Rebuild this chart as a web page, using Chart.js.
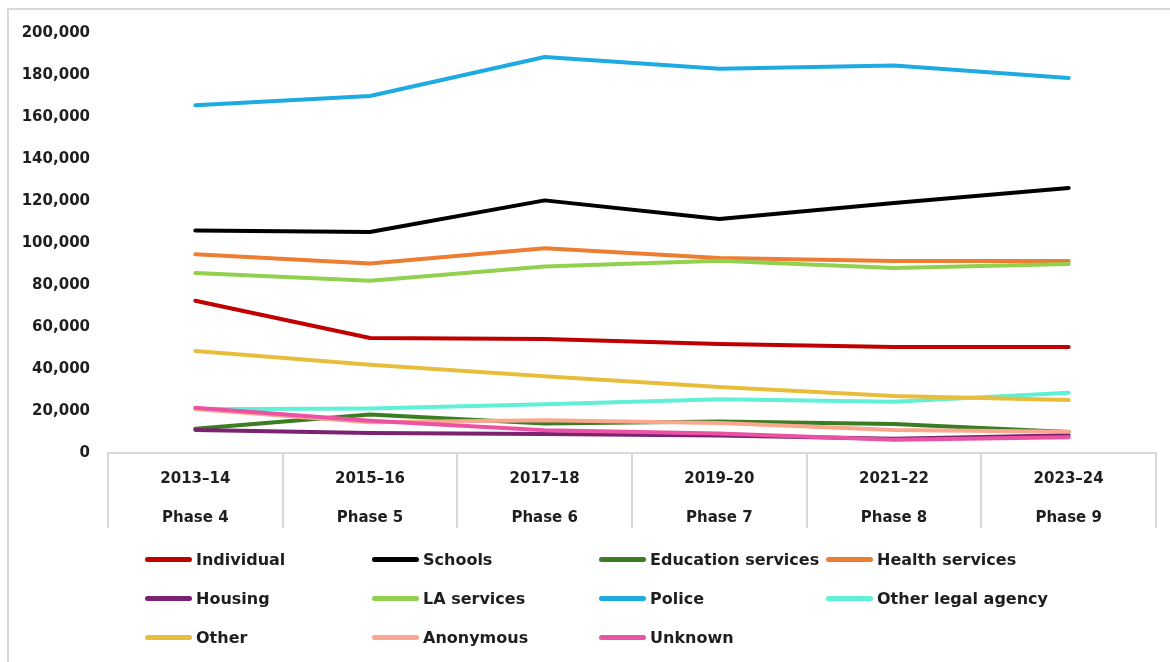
<!DOCTYPE html>
<html>
<head>
<meta charset="utf-8">
<script src="https://cdn.jsdelivr.net/npm/chart.js@4.4.0/dist/chart.umd.min.js"></script>
<style>
  html, body { margin: 0; padding: 0; background: #fff; overflow: hidden; }
  body { width: 1170px; height: 662px; position: relative; }
  .frame {
    position: absolute; left: 7px; top: 8px; width: 1161px; height: 652px;
    border-left: 2px solid #d9d9d9; border-top: 2px solid #d9d9d9;
  }
  #wrap { position: absolute; left: 0; top: 0; width: 1170px; height: 545px; }
  .legend {
    position: absolute; left: 145px; top: 540px;
    display: grid; grid-template-columns: repeat(4, 227px); grid-auto-rows: 39px;
    font-family: "DejaVu Sans", sans-serif; font-weight: bold; font-size: 16px; color: #1e1e1e;
  }
  .legend div { display: flex; align-items: center; white-space: nowrap; }
  .legend span { display: inline-block; width: 47px; height: 5px; border-radius: 3px; margin-right: 4px; }
</style>
</head>
<body>
<div class="frame"></div>
<div id="wrap"><canvas id="chart" width="1170" height="545"></canvas></div>
<div class="legend" id="legend"></div>
<script>
// periods and phases on the x axis
const periods = ["2013–14", "2015–16", "2017–18", "2019–20", "2021–22", "2023–24"]
const phases = ["Phase 4", "Phase 5", "Phase 6", "Phase 7", "Phase 8", "Phase 9"]

// series values
const individual = [72500, 54800, 54300, 51900, 50500, 50500]
const schools = [106000, 105200, 120300, 111400, 119000, 126200]
const educationServices = [11500, 18300, 14000, 15000, 13800, 10000]
const healthServices = [94600, 90200, 97500, 92800, 91400, 91400]
const housing = [11000, 9500, 9000, 8300, 6800, 8500]
const laServices = [85700, 82000, 88800, 91600, 88100, 90000]
const police = [165600, 170000, 188600, 183000, 184500, 178600]
const otherLegalAgency = [20800, 21200, 23200, 25600, 24400, 28700]
const other = [48600, 42000, 36500, 31400, 27100, 25200]
const anonymous = [21000, 14600, 15600, 14300, 11000, 10100]
const unknown = [21600, 15400, 10800, 9300, 6300, 7500]

const series = [
  ["Individual", individual, "#c00000"],
  ["Schools", schools, "#000000"],
  ["Education services", educationServices, "#3b7d23"],
  ["Health services", healthServices, "#ed7d31"],
  ["Housing", housing, "#7b2272"],
  ["LA services", laServices, "#92d050"],
  ["Police", police, "#1eabe2"],
  ["Other legal agency", otherLegalAgency, "#5ff0d6"],
  ["Other", other, "#e9bd3c"],
  ["Anonymous", anonymous, "#fba68e"],
  ["Unknown", unknown, "#ec52a4"]
]

const font = "DejaVu Sans"
const textColor = "#1e1e1e"
const gridColor = "#d9d9d9"

const datasets = series.map(([label, data, color], i) => ({
  label,
  data,
  borderColor: color,
  backgroundColor: color,
  borderWidth: 4,
  borderCapStyle: "round",
  borderJoinStyle: "round",
  pointRadius: 0,
  tension: 0,
  // later series on top, like the original
  order: series.length - i
}))

new Chart(document.getElementById("chart"), {
  type: "line",
  data: {
    labels: periods.map((p, i) => [p, phases[i]]),
    datasets
  },
  options: {
    responsive: false,
    animation: false,
    layout: { padding: { left: 8, right: 14, top: 33, bottom: 0 } },
    plugins: {
      legend: { display: false },
      tooltip: { enabled: false }
    },
    scales: {
      x: {
        offset: true,
        afterFit: s => { s.height = 92 },
        grid: {
          offset: true,
          drawOnChartArea: false,
          drawTicks: true,
          tickLength: 75,
          color: gridColor,
          lineWidth: 2
        },
        border: { display: true, color: gridColor, width: 2 },
        ticks: {
          autoSkip: false,
          maxRotation: 0,
          padding: -68,
          color: textColor,
          font: { family: font, size: 15, weight: "bold", lineHeight: 2.6 }
        }
      },
      y: {
        min: 0,
        max: 200000,
        afterFit: s => { s.width = 100 },
        grid: { display: false, drawTicks: false },
        border: { display: false },
        ticks: {
          stepSize: 20000,
          padding: 18,
          color: textColor,
          font: { family: font, size: 15, weight: "bold" },
          callback: v => String(v).replace(/\B(?=(\d{3})+(?!\d))/g, ",")
        }
      }
    }
  }
})

// legend in fixed columns
const legend = document.getElementById("legend")
series.forEach(([label, , color]) => {
  const item = document.createElement("div")
  const swatch = document.createElement("span")
  swatch.style.background = color
  item.appendChild(swatch)
  item.appendChild(document.createTextNode(label))
  legend.appendChild(item)
})
</script>
</body>
</html>
